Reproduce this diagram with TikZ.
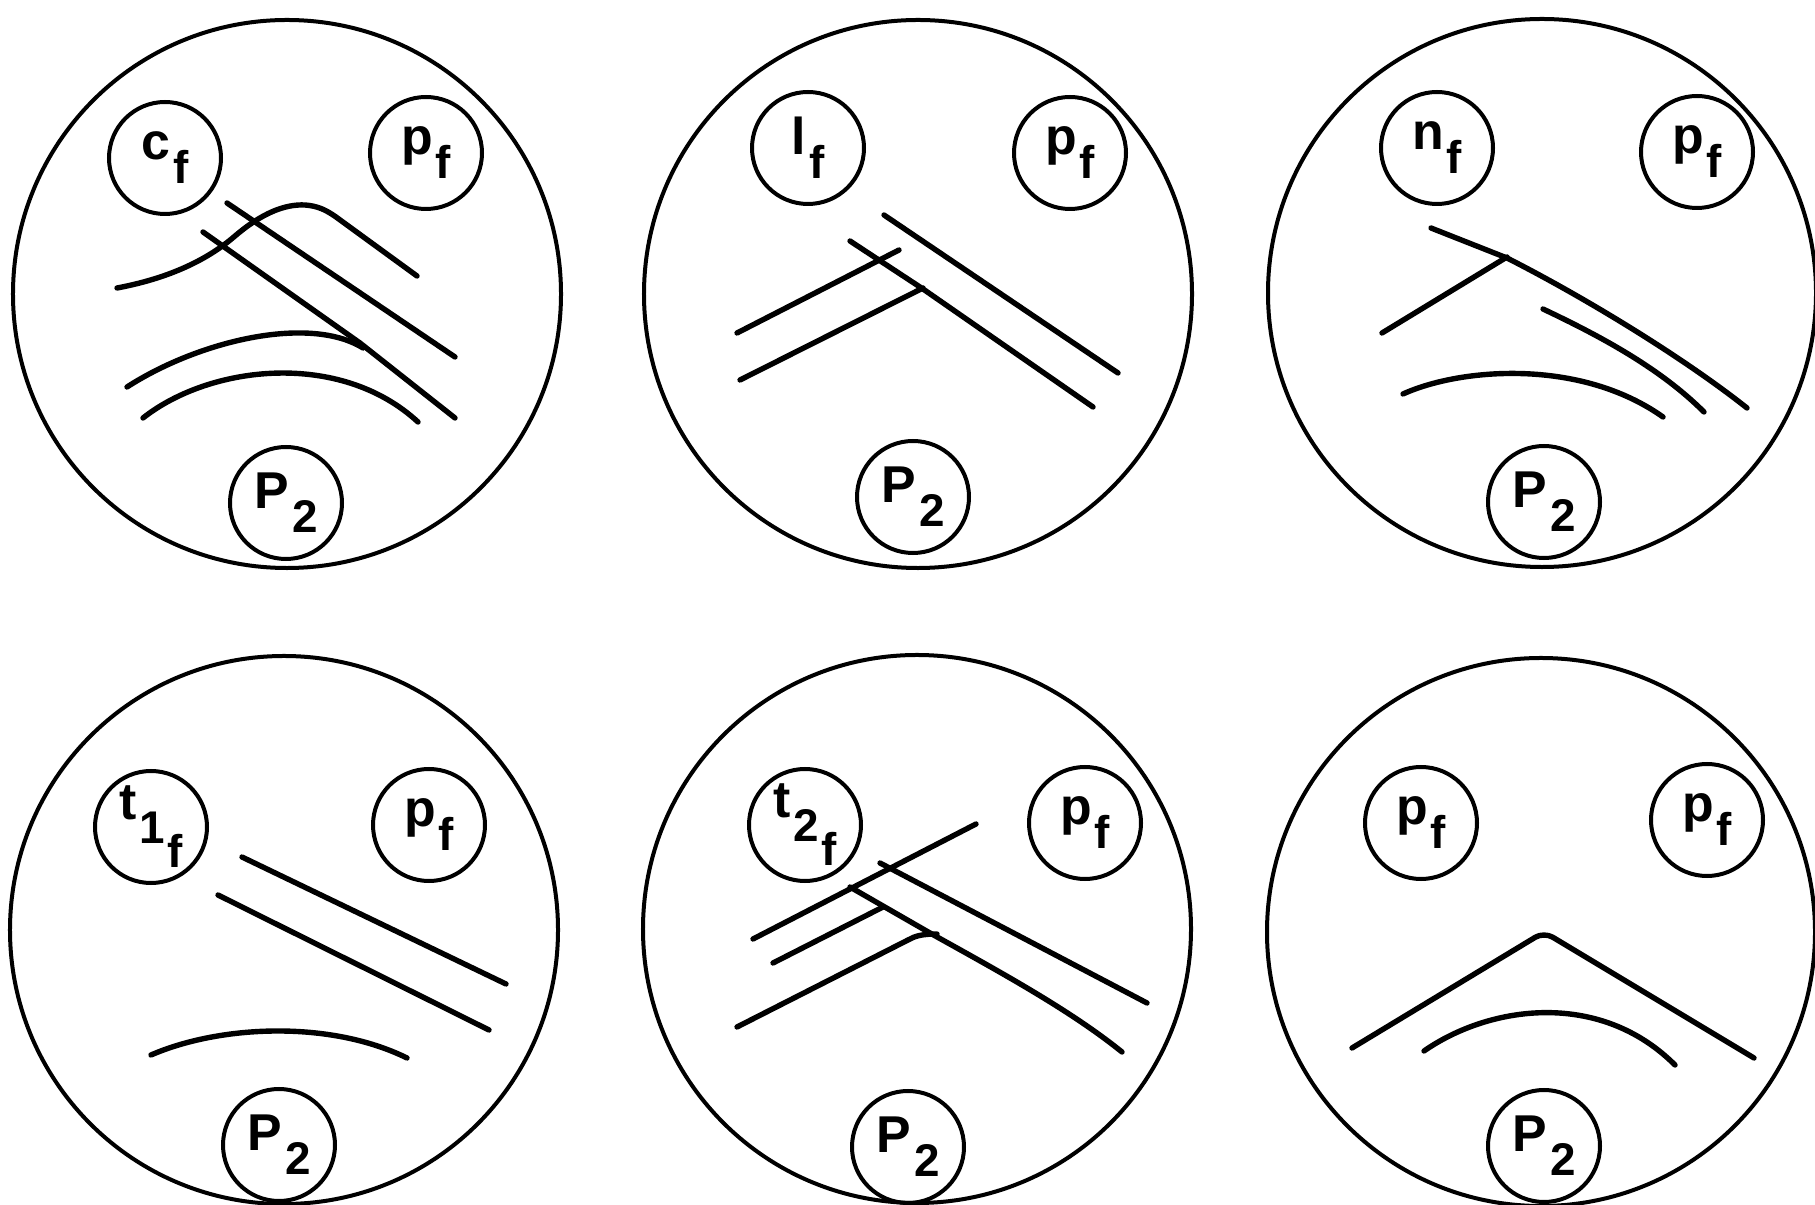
\documentclass[tikz,border=0pt]{standalone}
\usepackage{fontspec}
\setsansfont{Liberation Sans}
\usepackage{xcolor}
\definecolor{ink}{HTML}{000000}
\usepackage{tikz}
\newcommand{\lowsub}[1]{\hspace{1.5bp}\raisebox{-12bp}{\fontsize{23}{23}\selectfont#1}}

\begin{document}
\begin{tikzpicture}[x=0.5bp,y=-0.5bp,
  every node/.style={font=\sffamily\bfseries\fontsize{26}{26}\selectfont},
  face/.style={draw=ink,circle,line width=2bp,minimum size=274bp,inner sep=0pt},
  tag/.style={draw=ink,circle,line width=2bp,minimum size=56bp,inner sep=0pt},
  trace/.style={draw=ink,line width=2.7bp,line cap=round,line join=round}]
\useasboundingbox (0,0) rectangle (1815,1205);
\node[face] (A) at (287,294) {};
\node[face] (B) at (918,294) {};
\node[face] (C) at (1542,293) {};
\node[face] (D) at (284,930) {};
\node[face] (E) at (917,929) {};
\node[face] (F) at (1541,932) {};
\node[tag] (A1) at (165,158) {c\lowsub{f}};
\node[tag] (A2) at (426,153) {p\lowsub{f}};
\node[tag] (A3) at (286,503) {P\lowsub{2}};
\node[tag] (B1) at (808,148) {l\lowsub{f}};
\node[tag] (B2) at (1070,153) {p\lowsub{f}};
\node[tag] (B3) at (913,497) {P\lowsub{2}};
\node[tag] (C1) at (1437,148) {n\lowsub{f}};
\node[tag] (C2) at (1697,152) {p\lowsub{f}};
\node[tag] (C3) at (1544,502) {P\lowsub{2}};
\node[tag] (D1) at (151,827) {t\lowsub{1\lowsub{f}}};
\node[tag] (D2) at (429,825) {p\lowsub{f}};
\node[tag] (D3) at (279,1145) {P\lowsub{2}};
\node[tag] (E1) at (805,825) {t\lowsub{2\lowsub{f}}};
\node[tag] (E2) at (1085,823) {p\lowsub{f}};
\node[tag] (E3) at (908,1147) {P\lowsub{2}};
\node[tag] (F1) at (1421,823) {p\lowsub{f}};
\node[tag] (F2) at (1707,820) {p\lowsub{f}};
\node[tag] (F3) at (1544,1146) {P\lowsub{2}};
\draw[trace] (117,288) .. controls (165,279) and (205,262) .. (235,236) .. controls (262,213) and (285,204) .. (305,205) .. controls (318,206) and (326,210) .. (336,217) -- (417,276);
\draw[trace] (227,203) -- (455,357);
\draw[trace] (203,232) -- (360,343) -- (455,418);
\draw[trace] (127,387) .. controls (200,340) and (310,315) .. (363,348);
\draw[trace] (143,418) .. controls (210,365) and (340,350) .. (418,422);
\draw[trace] (884,215) -- (1118,373);
\draw[trace] (850,241) -- (923,289) -- (1093,407);
\draw[trace] (899,250) -- (737,333);
\draw[trace] (923,288) -- (740,380);
\draw[trace] (1431,228) -- (1507,258) .. controls (1580,295) and (1680,355) .. (1747,408);
\draw[trace] (1507,257) -- (1382,333);
\draw[trace] (1543,309) .. controls (1600,336) and (1660,368) .. (1704,412);
\draw[trace] (1403,394) .. controls (1460,368) and (1580,358) .. (1663,417);
\draw[trace] (242,857) -- (506,984);
\draw[trace] (218,895) -- (489,1030);
\draw[trace] (151,1055) .. controls (220,1025) and (330,1020) .. (407,1058);
\draw[trace] (976,824) -- (753,939);
\draw[trace] (880,863) -- (1147,1003);
\draw[trace] (850,887) -- (930,933) .. controls (1000,972) and (1070,1010) .. (1122,1052);
\draw[trace] (883,907) -- (773,963);
\draw[trace] (737,1027) -- (908,940) .. controls (915,936) and (922,934) .. (937,934);
\draw[trace,rounded corners=5bp] (1352,1048) -- (1544,932) -- (1754,1058);
\draw[trace] (1424,1051) .. controls (1490,1005) and (1600,990) .. (1675,1065);
\end{tikzpicture}
\end{document}
